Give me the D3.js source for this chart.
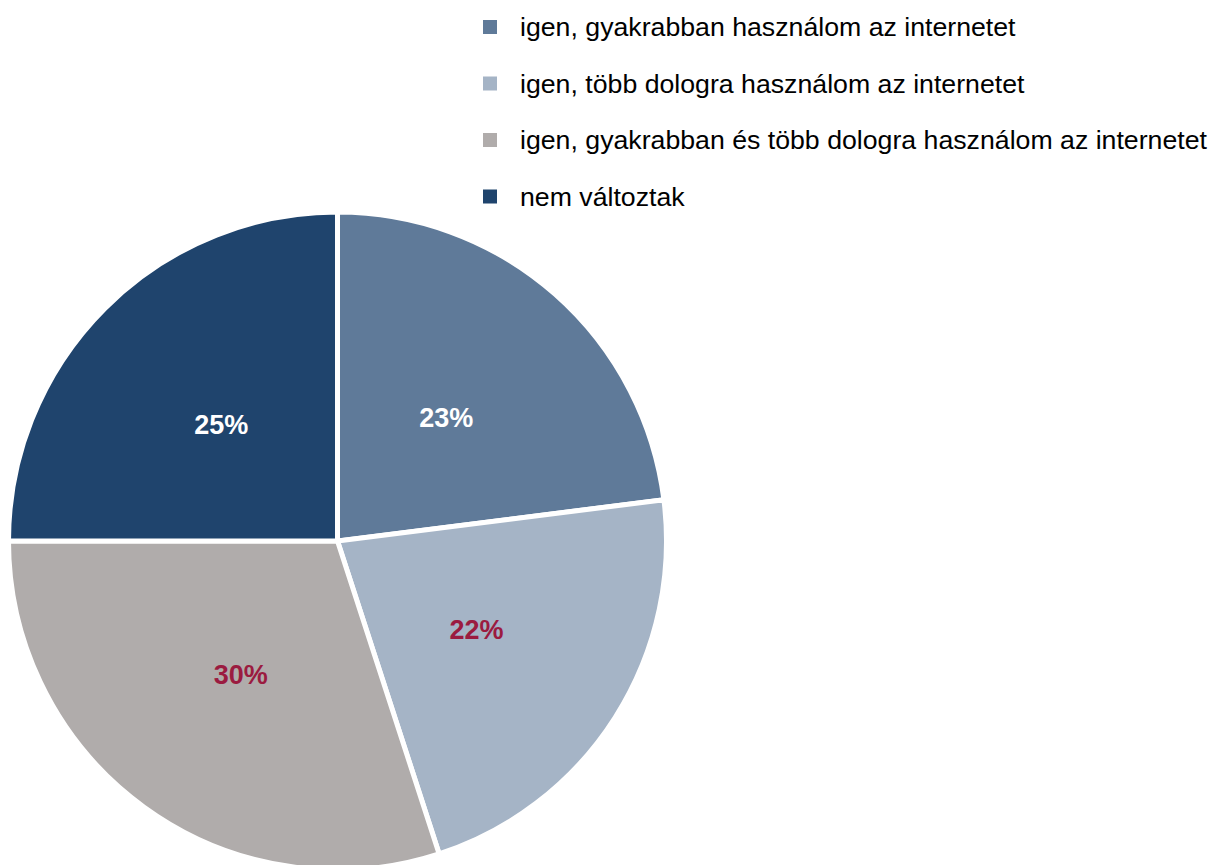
<!DOCTYPE html>
<html><head><meta charset="utf-8">
<script src="https://cdn.jsdelivr.net/npm/d3@7"></script>
<style>html,body{margin:0;padding:0;background:#fff;}svg{display:block;}</style>
</head><body>
<svg id="chart" width="1212" height="865"></svg>
<script>
const categories = [
  "igen, gyakrabban használom az internetet",
  "igen, több dologra használom az internetet",
  "igen, gyakrabban és több dologra használom az internetet",
  "nem változtak"
];
const values = [23, 22, 30, 25];
const colors = ["#5f7a99", "#a5b4c6", "#b0acab", "#1f446d"];
const labelColors = ["#ffffff", "#9b1b40", "#9b1b40", "#ffffff"];

const svg = d3.select("#chart");
const cx = 337.5, cy = 541, R = 329;

const pie = d3.pie().sort(null).value(d => d.v);
const data = pie(values.map((v, i) => ({v, i})));
const arc = d3.arc().innerRadius(0).outerRadius(R);
const labelArc = d3.arc().innerRadius(R * 0.5).outerRadius(R * 0.5);

const g = svg.append("g").attr("transform", `translate(${cx},${cy})`);
g.selectAll("path").data(data).join("path")
  .attr("d", arc)
  .attr("fill", d => colors[d.data.i])
  .attr("stroke", "#fff")
  .attr("stroke-width", 5)
  .attr("stroke-linejoin", "miter");

g.selectAll("text").data(data).join("text")
  .attr("transform", d => `translate(${labelArc.centroid(d)})`)
  .attr("text-anchor", "middle")
  .attr("dy", "0.35em")
  .attr("font-family", "Liberation Sans, Arial, sans-serif")
  .attr("font-weight", "bold")
  .attr("font-size", 27)
  .attr("fill", d => labelColors[d.data.i])
  .text(d => d.data.v + "%");

const leg = svg.append("g");
const rows = leg.selectAll("g").data(categories).join("g")
  .attr("transform", (d, i) => `translate(483,${27 + i * 56.5})`);
rows.append("rect").attr("x", 0).attr("y", -7).attr("width", 14).attr("height", 14)
  .attr("fill", (d, i) => colors[i]);
rows.append("text").attr("x", 37).attr("dy", "0.35em")
  .attr("font-family", "Liberation Sans, Arial, sans-serif")
  .attr("font-size", 26.7).attr("fill", "#000")
  .text(d => d);
</script>
</body></html>
